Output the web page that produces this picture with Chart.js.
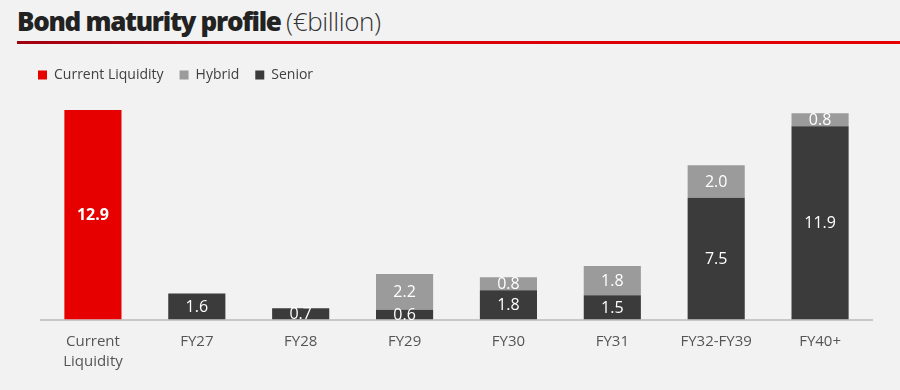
<!DOCTYPE html>
<html>
<head>
<meta charset="utf-8">
<script src="https://cdn.jsdelivr.net/npm/chart.js@4.4.0/dist/chart.umd.min.js"></script>
<style>
  html, body { margin: 0; padding: 0; background: #f2f2f2; }
  #wrap { position: relative; width: 900px; height: 390px; overflow: hidden; }
  #title { position: absolute; left: 17px; top: 3px; font-family: "Open Sans", sans-serif; font-size: 26px; color: #222; letter-spacing: -1.3px; white-space: nowrap; }
  #title b { font-weight: 800; }
  #title span { font-weight: 300; letter-spacing: -0.4px; color: #333; }
  #rule { position: absolute; left: 17px; top: 41px; width: 883px; height: 3px; background: linear-gradient(to right, #9e0010, #d4000f 30%, #e60000); }
  #cv { position: absolute; left: 0; top: 0; }
</style>
</head>
<body>
<div id="wrap">
  <div id="title"><b>Bond maturity profile</b> <span>(€billion)</span></div>
  <div id="rule"></div>
  <canvas id="cv" width="900" height="390"></canvas>
</div>
<script>
var categories = [['Current', 'Liquidity'], 'FY27', 'FY28', 'FY29', 'FY30', 'FY31', 'FY32-FY39', 'FY40+'];
var liquidity = [12.9, null, null, null, null, null, null, null];
var senior = [null, 1.6, 0.7, 0.6, 1.8, 1.5, 7.5, 11.9];
var hybrid = [null, null, null, 2.2, 0.8, 1.8, 2.0, 0.8];

// values written in the middle of each bar
var barLabels = {
    id: 'barLabels',
    afterDatasetsDraw: function(chart) {
        var ctx = chart.ctx;
        ctx.save();
        ctx.fillStyle = '#ffffff';
        ctx.textAlign = 'center';
        ctx.textBaseline = 'middle';
        chart.data.datasets.forEach(function(ds, i) {
            var meta = chart.getDatasetMeta(i);
            meta.data.forEach(function(bar, j) {
                var v = ds.data[j];
                if (v === null) return;
                ctx.font = (i === 0 ? 'bold ' : '') + '16px "Open Sans"';
                ctx.fillText(v.toFixed(1), bar.x, (bar.y + bar.base) / 2 + 1);
            });
        });
        ctx.restore();
    }
};

var ctx = document.getElementById('cv').getContext('2d');
new Chart(ctx, {
    type: 'bar',
    data: {
        labels: categories,
        datasets: [{
            label: 'Current Liquidity',
            data: liquidity,
            backgroundColor: '#e60000'
        }, {
            label: 'Senior',
            data: senior,
            backgroundColor: '#3b3b3b'
        }, {
            label: 'Hybrid',
            data: hybrid,
            backgroundColor: '#9b9b9c'
        }]
    },
    options: {
        responsive: false,
        animation: false,
        layout: {
            padding: { top: 52, left: 22, right: 28, bottom: 6 }
        },
        datasets: {
            bar: { categoryPercentage: 1, barPercentage: 0.55 }
        },
        plugins: {
            legend: {
                align: 'start',
                labels: {
                    boxWidth: 9,
                    boxHeight: 9,
                    padding: 16,
                    color: '#404040',
                    font: { size: 14, family: 'Open Sans' },
                    sort: function(a, b) {
                        var order = [0, 2, 1];
                        return order.indexOf(a.datasetIndex) - order.indexOf(b.datasetIndex);
                    }
                }
            },
            tooltip: { enabled: false }
        },
        scales: {
            x: {
                stacked: true,
                grid: { display: false, drawTicks: false },
                border: { display: true, color: '#c8c8c8', width: 2 },
                ticks: {
                    color: '#555555',
                    padding: 12,
                    font: { size: 15, family: 'Open Sans', lineHeight: 1.35 }
                }
            },
            y: {
                stacked: true,
                min: 0,
                max: 14,
                grid: { display: false },
                border: { display: false },
                ticks: { display: false },
                afterFit: function(scale) { scale.width = 19; }
            }
        }
    },
    plugins: [barLabels]
});
</script>
</body>
</html>
